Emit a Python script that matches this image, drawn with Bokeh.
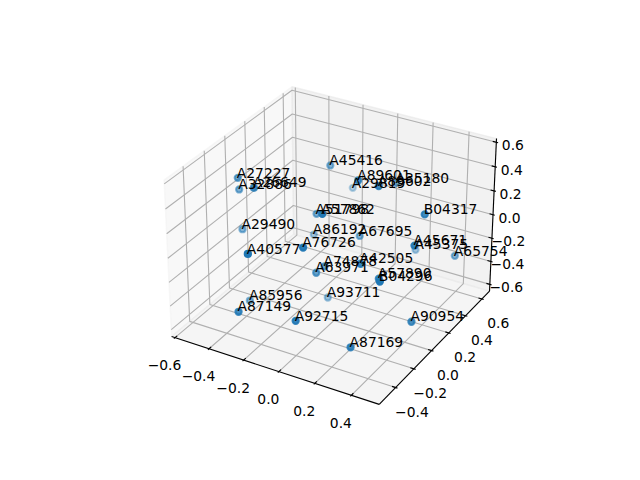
import numpy as np
from bokeh.plotting import figure
from bokeh.models import Range1d, ColumnDataSource
from bokeh.core.properties import value
from bokeh.embed import file_html
from bokeh.resources import INLINE

names = ["A27227","A32886","A26649","A29490","A45416","A89601","A29819","A89602","A35180","B04317",
         "A45671","A45375","A65754","A67695","A42505","A74878","A63971","A57890","B04296","A93711",
         "A90954","A87169","A40577","A76726","A85956","A87149","A92715","A86192","A51798","A57862"]
xs = [-.517,-.530,-.336,-.500,-.200,.090,-.214,.212,.137,.436,.459,.190,.451,.015,.259,-.008,-.035,.323,.405,-.106,
      .482,.288,-.150,.035,-.379,-.218,.060,-.278,-.168,.092]
ys = [-.0562,-.0237,-.2058,-.0513,.3357,.0826,.6123,.0649,.4144,.1210,-.0345,.5444,.4607,.2500,-.2137,-.0867,-.1231,-.1428,-.2954,.1309,
      -.0975,-.3702,-.5927,-.3820,-.1989,-.5809,-.5081,.2992,.1279,-.2925]
zs = [.361,.239,.447,-.063,.342,.492,-.027,.506,.281,.334,.197,-.350,-.232,-.106,.087,-.141,-.180,-.057,.065,-.605,
      -.374,-.474,.252,.237,-.516,-.258,-.258,-.251,.085,.469]
xlim = (-0.62, 0.55)
ylim = (-0.575, 0.695)
zlim = (-0.66, 0.63)
xticks = [-0.6,-0.4,-0.2,0.0,0.2,0.4]
yticks = [-0.4,-0.2,0.0,0.2,0.4,0.6]
zticks = [-0.6,-0.4,-0.2,0.0,0.2,0.4,0.6]

# matplotlib's default 3D camera
dist = 10.0
elev, azim = np.radians(30), np.radians(-60)
box = np.array([4., 4., 3.])
box = box * 1.8294640721620434 * 25 / 24 / np.linalg.norm(box)
R = .5 * box
eye = R + dist * np.array([np.cos(elev)*np.cos(azim), np.cos(elev)*np.sin(azim), np.sin(elev)])
w = (eye - R) / np.linalg.norm(eye - R)
u = np.cross([0, 0, 1.], w); u /= np.linalg.norm(u)
v = np.cross(w, u)

def proj(x, y, z):
    P = np.array([(x-xlim[0])/(xlim[1]-xlim[0])*box[0],
                  (y-ylim[0])/(ylim[1]-ylim[0])*box[1],
                  (z-zlim[0])/(zlim[1]-zlim[0])*box[2]]) - eye
    D = -P.dot(w)
    nx, ny = P.dot(u)/D, P.dot(v)/D
    return 143.2 + (nx+.095)/.185*369.6, 427.2 - (ny+.095)/.185*369.6, D

def path(*pts):
    q = [proj(*t) for t in pts]
    return [a[0] for a in q], [a[1] for a in q]

p = figure(width=640, height=480, x_range=Range1d(0, 640), y_range=Range1d(480, 0),
           x_axis_type=None, y_axis_type=None, output_backend="svg", toolbar_location=None,
           min_border=0, outline_line_color=None, background_fill_color="white", border_fill_color="white")
p.grid.visible = False

x0, x1 = xlim; y0, y1 = ylim; z0, z1 = zlim
panes = [([(x0,y0,z0),(x0,y1,z0),(x0,y1,z1),(x0,y0,z1)], "#f2f2f2"),
         ([(x0,y1,z0),(x1,y1,z0),(x1,y1,z1),(x0,y1,z1)], "#e6e6e6"),
         ([(x0,y0,z0),(x1,y0,z0),(x1,y1,z0),(x0,y1,z0)], "#ececec")]
for pts, c in panes:
    a, b = path(*pts)
    p.patch(a, b, fill_color=c, fill_alpha=.5, line_color=c, line_alpha=.5, line_width=1.4)

gx, gy = [], []
for t in xticks:
    a, b = path((t,y0,z0),(t,y1,z0),(t,y1,z1)); gx.append(a); gy.append(b)
for t in yticks:
    a, b = path((x1,t,z0),(x0,t,z0),(x0,t,z1)); gx.append(a); gy.append(b)
for t in zticks:
    a, b = path((x0,y0,t),(x0,y1,t),(x1,y1,t)); gx.append(a); gy.append(b)
p.multi_line(gx, gy, line_color="#b0b0b0", line_width=1.11)

ax, ay = [], []
for pts in [((x0,y0,z0),(x1,y0,z0)), ((x1,y0,z0),(x1,y1,z0)), ((x1,y1,z0),(x1,y1,z1))]:
    a, b = path(*pts); ax.append(a); ay.append(b)
dx, dy = (x1-x0)/12, (y1-y0)/12
for t in xticks:
    a, b = path((t,y0-.1*dy,z0),(t,y0+.2*dy,z0)); ax.append(a); ay.append(b)
for t in yticks:
    a, b = path((x1+.1*dx,t,z0),(x1-.2*dx,t,z0)); ax.append(a); ay.append(b)
for t in zticks:
    a, b = path((x1+.1*dx,y1,t),(x1-.2*dx,y1,t)); ax.append(a); ay.append(b)
p.multi_line(ax, ay, line_color="black", line_width=1.11)

def fmt(t):
    return ("\u2212" if t < 0 else "") + "%.1f" % abs(t)

tx, ty, tt = [], [], []
for t in xticks:
    a, b, _ = proj(t, y0, z0); tx.append(a-10.5); ty.append(b+27.5); tt.append(fmt(t))
for t in yticks:
    a, b, _ = proj(x1, t, z0); tx.append(a+16.3); ty.append(b+24.2); tt.append(fmt(t))
for t in zticks:
    a, b, _ = proj(x1, y1, t); tx.append(a+16.5); ty.append(b+3); tt.append(fmt(t))
p.text(tx, ty, text=tt, text_align="center", text_baseline="middle", text_color="black",
       text_font=value("DejaVu Sans"), text_font_size=value("13.89px"))

q = [proj(a, b, c) for a, b, c in zip(xs, ys, zs)]
px = np.array([a[0] for a in q]); py = np.array([a[1] for a in q]); D = np.array([a[2] for a in q])
vz = -10 / D
alpha = 1 - (vz - vz.min()) / (vz.max() - vz.min()) * .7
order = np.argsort(-vz)
src = ColumnDataSource(dict(x=px[order], y=py[order], a=alpha[order]))
p.scatter("x", "y", source=src, size=6.21, marker="circle", fill_color="#1f77b4", line_color="#1f77b4",
          fill_alpha="a", line_alpha="a", line_width=2.08)
p.text(list(px), list(py), text=names, text_align="left", text_baseline="alphabetic", text_color="black",
       text_font=value("DejaVu Sans"), text_font_size=value("13.89px"), x_offset=-1, y_offset=-5.3)

open("out.html", "w").write(file_html(p, INLINE))
